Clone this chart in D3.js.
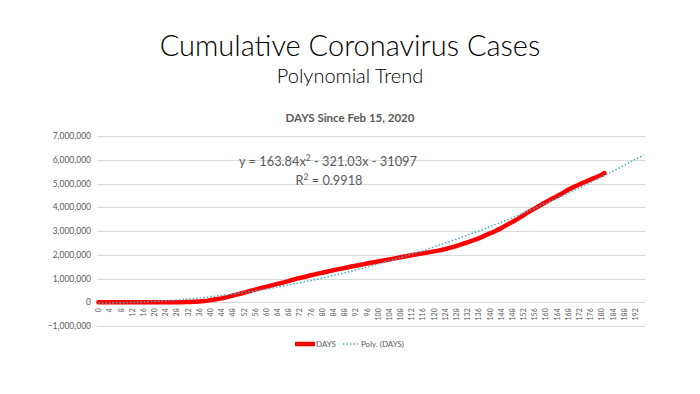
<!DOCTYPE html>
<html>
<head>
<meta charset="utf-8">
<script src="https://cdn.jsdelivr.net/npm/d3@7"></script>
<style>
  body { margin: 0; background: #fff; }
  text { font-family: Lato, "Open Sans", sans-serif; }
</style>
</head>
<body>
<script>
//cumulative cases since Feb 15, 2020 (day 0), one value per day
var cases = [
  15, 15, 15, 15, 15, 15, 35, 35, 35, 53, 53, 53, 57, 60, 68,
  75, 100, 124, 158, 221, 319, 435, 541, 704, 994, 1301, 1697, 2247, 2943,
  3680, 4663, 6411, 9197, 13779, 19367, 24192, 33592, 43781, 54856, 68211, 85356, 103942, 123750, 143025, 164620, 188172,
  214000, 245000, 277000, 312000, 338000, 368000, 398000, 433000, 467000, 502000, 532000, 562000, 592000, 620000, 648000,
  678000, 710000, 744000, 772000, 800000, 828000, 858000, 890000, 928000, 964000, 994000, 1020000, 1048000, 1076000, 1104000,
  1136000, 1164000, 1192000, 1216000, 1240000, 1266000, 1294000, 1322000, 1348000, 1372000, 1394000, 1416000, 1440000, 1466000, 1492000,
  1516000, 1538000, 1560000, 1582000, 1604000, 1630000, 1654000, 1676000, 1698000, 1718000, 1740000, 1760000, 1780000, 1802000, 1826000, 1848000,
  1870000, 1892000, 1914000, 1936000, 1957000, 1978000, 1998000, 2017000, 2038000, 2057000, 2078000, 2100000, 2122000, 2142000,
  2162000, 2186000, 2212000, 2238000, 2272000, 2302000, 2332000, 2368000, 2404000, 2444000, 2484000, 2524000, 2562000, 2602000, 2645000, 2690000,
  2740000, 2794000, 2850000, 2896000, 2942000, 2998000, 3058000, 3118000, 3186000, 3252000, 3314000, 3378000, 3444000, 3512000, 3584000,
  3662000, 3740000, 3812000, 3878000, 3942000, 4010000, 4080000, 4148000, 4214000, 4280000, 4344000, 4404000, 4462000, 4526000, 4592000, 4664000,
  4740000, 4795000, 4850000, 4905000, 4960000, 5015000, 5065000, 5115000, 5165000, 5215000, 5265000, 5315000, 5370000, 5440000
];

//category axis runs a bit past the data (trend forecast)
var dayCount = 196;
var days = d3.range(dayCount);
var xTickDays = d3.range(0, dayCount, 4);
var yTicks = [-1000000, 0, 1000000, 2000000, 3000000, 4000000, 5000000, 6000000, 7000000];

//trendline coefficients as shown in the label (x is Excel's 1-based index)
var trendCoef = [163.84, -321.03, -31097];

var titleText = "Cumulative Coronavirus Cases";
var subtitleText = "Polynomial Trend";
var chartTitle = "DAYS Since Feb 15, 2020";
var seriesName = "DAYS";
var trendName = "Poly. (DAYS)";

window.onload = function(){
    var width = 700, height = 394;
    var left = 97, right = 645, top = 136, bottom = 326;

    var svg = d3.select("body")
        .append("svg")
        .attr("width", width)
        .attr("height", height);

    var x = d3.scalePoint()
        .domain(days)
        .range([left, right])
        .padding(0.5);

    var y = d3.scaleLinear()
        .domain([d3.min(yTicks), d3.max(yTicks)])
        .range([bottom, top]);

    //titles
    svg.append("text")
        .attr("x", 350).attr("y", 56)
        .attr("text-anchor", "middle")
        .style("font-size", "29px").style("font-weight", 300)
        .style("fill", "#000")
        .text(titleText);

    svg.append("text")
        .attr("x", 350).attr("y", 83)
        .attr("text-anchor", "middle")
        .style("font-size", "20px").style("font-weight", 300)
        .style("fill", "#000")
        .text(subtitleText);

    svg.append("text")
        .attr("x", 350).attr("y", 122)
        .attr("text-anchor", "middle")
        .style("font-size", "11.5px").style("font-weight", 700)
        .style("fill", "#595959")
        .text(chartTitle);

    //gridlines
    svg.append("g")
        .selectAll("line")
        .data(yTicks)
        .enter().append("line")
        .attr("x1", left).attr("x2", right)
        .attr("y1", function(d){ return Math.round(y(d)) + 0.5; })
        .attr("y2", function(d){ return Math.round(y(d)) + 0.5; })
        .style("stroke", "#d9d9d9")
        .style("stroke-width", 1);

    //y axis labels
    var yAxis = svg.append("g")
        .attr("transform", "translate(" + (left - 6) + ",0)")
        .call(d3.axisLeft(y).tickValues(yTicks).tickFormat(d3.format(",")).tickSize(0).tickPadding(0));
    yAxis.select(".domain").remove();
    yAxis.selectAll("text")
        .style("font-size", "8.5px")
        .style("fill", "#595959");

    //x axis labels, rotated
    var xAxis = svg.append("g")
        .attr("transform", "translate(0," + (y(0) + 3) + ")")
        .call(d3.axisBottom(x).tickValues(xTickDays).tickSize(0).tickPadding(0));
    xAxis.select(".domain").remove();
    xAxis.selectAll("text")
        .attr("transform", "rotate(-90)")
        .attr("x", -3).attr("y", 0).attr("dy", "0.32em")
        .style("text-anchor", "end")
        .style("font-size", "7px")
        .style("fill", "#595959");

    //data line
    var line = d3.line()
        .x(function(d, i){ return x(i); })
        .y(function(d){ return y(d); });

    svg.append("path")
        .datum(cases)
        .attr("d", line)
        .style("fill", "none")
        .style("stroke", "#ff0000")
        .style("stroke-width", 4.5)
        .style("stroke-linejoin", "round")
        .style("stroke-linecap", "round");

    //polynomial trendline over all categories
    var trend = d3.line()
        .x(function(d){ return x(d); })
        .y(function(d){
            var t = d + 1;
            return y(trendCoef[0] * t * t + trendCoef[1] * t + trendCoef[2]);
        });

    svg.append("path")
        .datum(days)
        .attr("d", trend)
        .style("fill", "none")
        .style("stroke", "#4bacc6")
        .style("stroke-width", 1.5)
        .style("stroke-dasharray", "1.5 2");

    //trend equation
    var eq = svg.append("text")
        .attr("x", 328).attr("y", 166)
        .attr("text-anchor", "middle")
        .style("font-size", "12.8px")
        .style("fill", "#595959");
    eq.append("tspan").text("y = " + trendCoef[0] + "x");
    eq.append("tspan").attr("dy", -5).style("font-size", "8.5px").text("2");
    eq.append("tspan").attr("dy", 5).text(" - " + Math.abs(trendCoef[1]) + "x - " + Math.abs(trendCoef[2]));

    var r2 = svg.append("text")
        .attr("x", 329).attr("y", 185)
        .attr("text-anchor", "middle")
        .style("font-size", "12.8px")
        .style("fill", "#595959");
    r2.append("tspan").text("R");
    r2.append("tspan").attr("dy", -5).style("font-size", "8.5px").text("2");
    r2.append("tspan").attr("dy", 5).text(" = 0.9918");

    //legend
    var legend = svg.append("g");
    legend.append("line")
        .attr("x1", 295).attr("x2", 315).attr("y1", 344).attr("y2", 344)
        .style("stroke", "#ff0000").style("stroke-width", 4.5);
    legend.append("text")
        .attr("x", 316).attr("y", 347)
        .style("font-size", "8px").style("fill", "#595959")
        .text(seriesName);
    legend.append("line")
        .attr("x1", 343).attr("x2", 358).attr("y1", 344).attr("y2", 344)
        .style("stroke", "#4bacc6").style("stroke-width", 1.5)
        .style("stroke-dasharray", "1.5 2");
    legend.append("text")
        .attr("x", 361).attr("y", 347)
        .style("font-size", "8px").style("fill", "#595959")
        .text(trendName);
};
</script>
</body>
</html>
